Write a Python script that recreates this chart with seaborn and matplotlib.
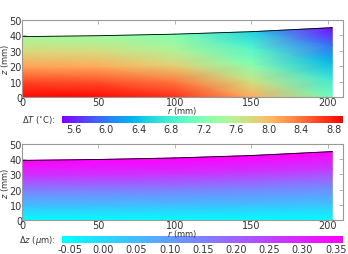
import numpy as np
import seaborn as sns
import matplotlib
matplotlib.use("Agg")
import matplotlib.pyplot as plt

# radial nodes (mm) and the top boundary of the domain (mm)
r_nodes = [0, 50, 100, 150, 203]
z_top = [39.2, 39.8, 40.8, 42.4, 45.0]
# fraction of local height for each row of values (bottom -> top)
z_frac = [0.0, 0.25, 0.5, 0.75, 1.0]

# temperature rise (deg C), rows = z_frac, columns = r_nodes
dT = [
    [8.88, 8.86, 8.70, 8.10, 7.10],
    [8.60, 8.55, 8.35, 7.70, 6.75],
    [8.15, 8.10, 7.85, 7.25, 6.35],
    [7.80, 7.75, 7.50, 6.90, 5.95],
    [7.45, 7.40, 7.20, 6.55, 5.50],
]
# axial displacement (um)
dz = [
    [-0.060, -0.060, -0.060, -0.060, -0.060],
    [0.050, 0.050, 0.050, 0.050, 0.048],
    [0.150, 0.150, 0.150, 0.145, 0.140],
    [0.280, 0.280, 0.280, 0.275, 0.270],
    [0.360, 0.360, 0.360, 0.360, 0.360],
]

dT_ticks = [5.6, 6.0, 6.4, 6.8, 7.2, 7.6, 8.0, 8.4, 8.8]
dz_ticks = [-0.05, 0.00, 0.05, 0.10, 0.15, 0.20, 0.25, 0.30, 0.35]
r_ticks = [0, 50, 100, 150, 200]
z_ticks = [0, 10, 20, 30, 40, 50]

sns.set_theme(style="white")
plt.rcParams['font.family'] = ['DejaVu Sans']
plt.rcParams['mathtext.fontset'] = 'dejavusans'

W, H = 348, 255
fig = plt.figure(figsize=(W / 100, H / 100), dpi=100)


def px_axes(x0, y0, x1, y1):
    # axes from pixel box (top-left origin)
    return fig.add_axes([x0 / W, 1 - y1 / H, (x1 - x0) / W, (y1 - y0) / H])


R = np.tile(np.array(r_nodes, float), (len(z_frac), 1))
Z = np.outer(z_frac, z_top)

panels = [
    (dT, "rainbow", 5.46, 8.91, dT_ticks, r"$\Delta T$ ($^{\circ}$C):", 21, 98, 117, 124, "%.1f"),
    (dz, "cool", -0.062, 0.361, dz_ticks, r"$\Delta z$ ($\mu$m):", 145, 221, 237, 244, "%.2f"),
]

for vals, cmap, vmin, vmax, cticks, clabel, ytop, ybot, cy0, cy1, fmt in panels:
    ax = px_axes(22, ytop, 343, ybot)
    mesh = ax.pcolormesh(R, Z, np.array(vals), shading="gouraud", cmap=cmap,
                         vmin=vmin, vmax=vmax)
    ax.plot(r_nodes, z_top, color="black", lw=0.6)
    ax.set_xlim(0, 210)
    ax.set_ylim(0, 50)
    ax.set_xticks(r_ticks)
    ax.set_yticks(z_ticks)
    ax.tick_params(direction="in", length=3, width=0.5, color="#999999",
                   labelsize=7, labelcolor="#333333", pad=0,
                   top=True, right=True, bottom=True, left=True)
    for s in ax.spines.values():
        s.set_color("#999999")
        s.set_linewidth(0.8)
    ax.set_ylabel(r"$z$ (mm)", fontsize=6, color="#333333")
    ax.yaxis.set_label_coords(-0.034, 0.5)

    cax = px_axes(62, cy0, 343, cy1)
    cb = fig.colorbar(mesh, cax=cax, orientation="horizontal", ticks=cticks,
                      format=fmt)
    cb.outline.set_visible(False)
    cax.tick_params(length=0, labelsize=7, labelcolor="#333333", pad=0.5)
    # r label as a figure text so it sits above the colorbar strip
    fig.text((22 + 343) / 2 / W, 1 - (ybot + 13) / H, r"$r$ (mm)",
             ha="center", va="center", fontsize=6, color="#333333")
    fig.text(56 / W, 1 - (cy0 + cy1) / 2 / H, clabel, ha="right", va="center",
             fontsize=6, color="#333333")

fig.savefig("out.png", dpi=100)
